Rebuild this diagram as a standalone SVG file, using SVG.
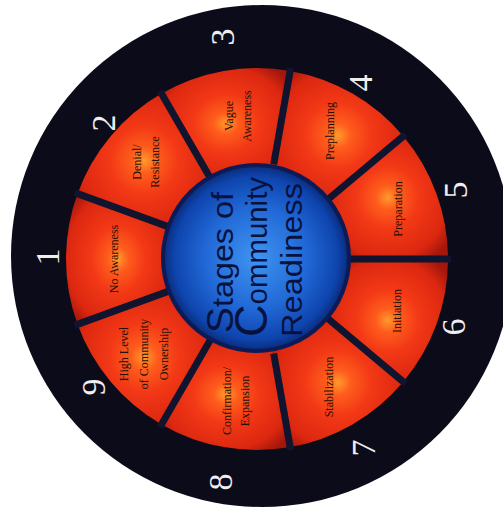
<svg xmlns="http://www.w3.org/2000/svg" width="503" height="516" viewBox="0 0 503 516">
<defs>
<radialGradient id="segGrad" cx="50%" cy="50%" r="62%">
<stop offset="0" stop-color="#ff9a2c"/>
<stop offset="0.16" stop-color="#ff5c1c"/>
<stop offset="0.42" stop-color="#f23816"/>
<stop offset="0.8" stop-color="#dc2810"/>
<stop offset="1" stop-color="#a3170c"/>
</radialGradient>
<radialGradient id="blueGrad" cx="50%" cy="50%" r="50%">
<stop offset="0" stop-color="#3f94f2"/>
<stop offset="0.55" stop-color="#2168d6"/>
<stop offset="0.88" stop-color="#0e44ad"/>
<stop offset="1" stop-color="#0a2a78"/>
</radialGradient>
</defs>
<style>
.seg{fill:url(#segGrad);}
.lbl{font-family:"Liberation Serif","Times New Roman",serif;font-size:12px;fill:#241006;text-anchor:middle;dominant-baseline:central;}
.num{font-family:"Liberation Serif","Times New Roman",serif;font-size:34px;fill:#eeeeee;text-anchor:middle;dominant-baseline:central;}
.div{stroke:#10142e;stroke-width:7;}
.ctr{font-family:"Liberation Sans",Arial,sans-serif;font-size:30px;fill:#08123f;}
</style>
<rect width="503" height="516" fill="#ffffff"/>
<circle id="outer-disc" cx="262" cy="256" r="251" fill="#0c0b1a"/>

<g id="stage1">
<path class="seg" d="M77.52,324.33 A191,191 0 0 1 77.52,193.67 L170.55,227.53 A92,92 0 0 0 170.55,290.47 Z"/>
<text class="lbl" transform="translate(114,259) rotate(-90)">No Awareness</text>
<text class="num" transform="translate(47,257) rotate(-90)">1</text>
</g>
<g id="stage2">
<path class="seg" d="M77.52,193.67 A191,191 0 0 1 161.5,93.59 L211,179.33 A92,92 0 0 0 170.55,227.53 Z"/>
<text class="lbl" transform="translate(146,162) rotate(-90)"><tspan x="0" y="-9">Denial/</tspan><tspan x="0" y="9">Resistance</tspan></text>
<text class="num" transform="translate(103,123) rotate(-90)">2</text>
</g>
<g id="stage3">
<path class="seg" d="M161.5,93.59 A191,191 0 0 1 290.17,70.9 L272.98,168.4 A92,92 0 0 0 211,179.33 Z"/>
<text class="lbl" transform="translate(238,116) rotate(-90)"><tspan x="0" y="-9">Vague</tspan><tspan x="0" y="9">Awareness</tspan></text>
<text class="num" transform="translate(222,37) rotate(-90)">3</text>
</g>
<g id="stage4">
<path class="seg" d="M290.17,70.9 A191,191 0 0 1 403.31,136.23 L327.48,199.86 A92,92 0 0 0 272.98,168.4 Z"/>
<text class="lbl" transform="translate(330,131) rotate(-90)">Preplanning</text>
<text class="num" transform="translate(360,83) rotate(-90)">4</text>
</g>
<g id="stage5">
<path class="seg" d="M403.31,136.23 A191,191 0 0 1 448,259 L349,259 A92,92 0 0 0 327.48,199.86 Z"/>
<text class="lbl" transform="translate(398,209) rotate(-90)">Preparation</text>
<text class="num" transform="translate(455,190) rotate(-90)">5</text>
</g>
<g id="stage6">
<path class="seg" d="M448,259 A191,191 0 0 1 403.31,381.77 L327.48,318.14 A92,92 0 0 0 349,259 Z"/>
<text class="lbl" transform="translate(397,311) rotate(-90)">Initiation</text>
<text class="num" transform="translate(453,327) rotate(-90)">6</text>
</g>
<g id="stage7">
<path class="seg" d="M403.31,381.77 A191,191 0 0 1 290.17,447.1 L272.98,349.6 A92,92 0 0 0 327.48,318.14 Z"/>
<text class="lbl" transform="translate(329,387) rotate(-90)">Stabilization</text>
<text class="num" transform="translate(363,448) rotate(-90)">7</text>
</g>
<g id="stage8">
<path class="seg" d="M290.17,447.1 A191,191 0 0 1 161.5,424.41 L211,338.67 A92,92 0 0 0 272.98,349.6 Z"/>
<text class="lbl" transform="translate(236,401) rotate(-90)"><tspan x="0" y="-9">Confirmation/</tspan><tspan x="0" y="9">Expansion</tspan></text>
<text class="num" transform="translate(220,482) rotate(-90)">8</text>
</g>
<g id="stage9">
<path class="seg" d="M161.5,424.41 A191,191 0 0 1 77.52,324.33 L170.55,290.47 A92,92 0 0 0 211,338.67 Z"/>
<text class="lbl" transform="translate(144,354) rotate(-90)"><tspan x="0" y="-20">High Level</tspan><tspan x="0" y="0">of Community</tspan><tspan x="0" y="20">Ownership</tspan></text>
<text class="num" transform="translate(93,387) rotate(-90)">9</text>
</g>

<g id="connectors">
<line class="div" x1="174.3" y1="228.9" x2="74.7" y2="192.6"/>
<line class="div" x1="213" y1="182.8" x2="160" y2="91"/>
<line class="div" x1="273.7" y1="164.4" x2="290.7" y2="67.9"/>
<line class="div" x1="324.4" y1="202.4" x2="405.6" y2="134.3"/>
<line class="div" x1="345" y1="259" x2="451" y2="259"/>
<line class="div" x1="324.4" y1="315.6" x2="405.6" y2="383.7"/>
<line class="div" x1="273.7" y1="353.6" x2="290.7" y2="450.1"/>
<line class="div" x1="213" y1="335.2" x2="160" y2="427"/>
<line class="div" x1="174.3" y1="289.1" x2="74.7" y2="325.4"/>
</g>

<g id="center">
<circle cx="256" cy="258" r="93" fill="url(#blueGrad)" stroke="#0c1a55" stroke-width="4"/>
<g transform="translate(256,258) rotate(-90)">
<text class="ctr" x="-75" y="-23" textLength="141" lengthAdjust="spacingAndGlyphs"><tspan font-size="36">S</tspan>tages of</text>
<text class="ctr" x="-79" y="11" textLength="160" lengthAdjust="spacingAndGlyphs"><tspan font-size="46">C</tspan>ommunity</text>
<text class="ctr" x="-79" y="46" textLength="154" lengthAdjust="spacingAndGlyphs">Readiness</text>
</g>
</g>
</svg>
